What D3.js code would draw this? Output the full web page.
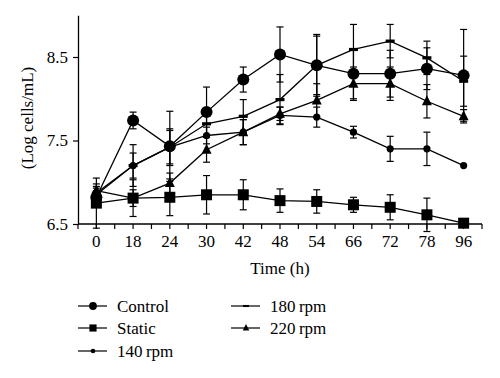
<!DOCTYPE html>
<html>
<head>
<meta charset="utf-8">
<script src="https://cdn.jsdelivr.net/npm/d3@7"></script>
<style>
  body { margin: 0; background: #fff; }
</style>
</head>
<body>
<script>
var width = 500,
    height = 378;

var serif = "'Liberation Serif', 'Times New Roman', Times, 'DejaVu Serif', serif";

// time points (h)
var times = ['0', '18', '24', '30', '42', '48', '54', '66', '72', '78', '96'];
var yTicks = [6.5, 7.5, 8.5];

// means, log cells/mL
var control = [6.82, 7.74, 7.43, 7.84, 8.23, 8.53, 8.40, 8.30, 8.30, 8.36, 8.28];
var stat    = [6.75, 6.81, 6.82, 6.85, 6.85, 6.78, 6.77, 6.73, 6.70, 6.61, 6.51];
var rpm140  = [6.85, 7.20, 7.42, 7.56, 7.60, 7.80, 7.78, 7.60, 7.40, 7.40, 7.20];
var rpm180  = [6.87, 7.20, 7.42, 7.70, 7.79, 7.99, 8.40, 8.59, 8.69, 8.49, 8.21];
var rpm220  = [6.90, 6.81, 6.99, 7.39, 7.60, 7.82, 7.98, 8.18, 8.18, 7.97, 7.79];

// error bars (+/-)
var controlErr = [0.08, 0.10, 0.42, 0.30, 0.15, 0.33, 0.37, 0.30, 0.28, 0.25, 0.55];
var statErr    = [0.30, 0.22, 0.22, 0.23, 0.18, 0.14, 0.14, 0.09, 0.15, 0.20, 0.00];
var rpm140Err  = [0.08, 0.25, 0.20, 0.10, 0.15, 0.10, 0.12, 0.07, 0.15, 0.20, 0.00];
var rpm180Err  = [0.08, 0.15, 0.22, 0.15, 0.20, 0.30, 0.35, 0.30, 0.20, 0.20, 0.30];
var rpm220Err  = [0.08, 0.10, 0.12, 0.15, 0.15, 0.08, 0.20, 0.20, 0.20, 0.20, 0.08];

var seriesNames = ['Control', 'Static', '140\u2009rpm', '180\u2009rpm', '220\u2009rpm'];
var seriesVals = [control, stat, rpm140, rpm180, rpm220];
var seriesErrs = [controlErr, statErr, rpm140Err, rpm180Err, rpm220Err];
var seriesMarks = ['bigCircle', 'square', 'smallCircle', 'dash', 'triangle'];

var svg = d3.select('body')
  .append('svg')
  .attr('width', width)
  .attr('height', height);

var x = d3.scaleBand()
  .domain(times)
  .range([78, 482]);

var y = d3.scaleLinear()
  .domain([6.5, 9])
  .range([224, 15.25]);

function cx(t) { return x(t) + x.bandwidth() / 2; }

// axes
var xAxis = svg.append('g')
  .attr('transform', 'translate(0,224)')
  .call(d3.axisBottom(x).tickSize(5).tickSizeOuter(0).tickPadding(6));
xAxis.attr('font-family', null).attr('font-size', null);
xAxis.select('.domain').attr('d', 'M78,0H482').attr('stroke-width', 1.3);
xAxis.selectAll('.tick line').attr('stroke-width', 1.2);
xAxis.selectAll('text').style('font-family', serif).style('font-size', '17px');

// unlabeled ticks at band edges
var edges = times.map(function(t) { return x(t); }).concat([x(times[times.length - 1]) + x.step()]);
xAxis.selectAll('.edge')
  .data(edges)
  .enter().append('line')
  .attr('class', 'edge')
  .attr('x1', function(d) { return d; })
  .attr('x2', function(d) { return d; })
  .attr('y1', 0)
  .attr('y2', 5)
  .attr('stroke', '#000')
  .attr('stroke-width', 1.2);

var yAxis = svg.append('g')
  .attr('transform', 'translate(78,0)')
  .call(d3.axisLeft(y).tickValues(yTicks).tickFormat(d3.format('.1f')).tickSize(5).tickSizeOuter(0).tickPadding(5));
yAxis.attr('font-family', null).attr('font-size', null);
yAxis.select('.domain').attr('stroke-width', 1.3);
yAxis.selectAll('.tick line').attr('stroke-width', 1.2);
yAxis.selectAll('text').style('font-family', serif).style('font-size', '17px');

svg.append('text')
  .attr('x', 280)
  .attr('y', 274)
  .attr('text-anchor', 'middle')
  .style('font-family', serif)
  .style('font-size', '17px')
  .text('Time (h)');

svg.append('text')
  .attr('transform', 'translate(33,118) rotate(-90)')
  .attr('text-anchor', 'middle')
  .style('font-family', serif)
  .style('font-size', '17px')
  .text('(Log cells/mL)');

// markers
function drawMark(g, type, px, py, s) {
  if (type === 'bigCircle') {
    g.append('circle').attr('cx', px).attr('cy', py).attr('r', 6 * s).attr('fill', '#000');
  } else if (type === 'smallCircle') {
    g.append('circle').attr('cx', px).attr('cy', py).attr('r', 3.6 * s).attr('fill', '#000');
  } else if (type === 'square') {
    g.append('rect').attr('x', px - 5.5 * s).attr('y', py - 5.5 * s)
      .attr('width', 11 * s).attr('height', 11 * s).attr('fill', '#000');
  } else if (type === 'dash') {
    g.append('rect').attr('x', px - 4.5 * s).attr('y', py - 1.6 * s)
      .attr('width', 9 * s).attr('height', 3.2 * s).attr('fill', '#000');
  } else if (type === 'triangle') {
    var h = 10 * s;
    g.append('path')
      .attr('d', 'M' + px + ',' + (py - h * 0.6) + 'L' + (px + h / 2) + ',' + (py + h * 0.4) + 'L' + (px - h / 2) + ',' + (py + h * 0.4) + 'Z')
      .attr('fill', '#000');
  }
}

var line = d3.line()
  .x(function(d) { return cx(d.t); })
  .y(function(d) { return y(d.v); });

var plot = svg.append('g');

seriesVals.forEach(function(vals, i) {
  var pts = vals.map(function(v, j) { return { t: times[j], v: v, e: seriesErrs[i][j] }; });
  var g = plot.append('g');

  g.append('path')
    .datum(pts)
    .attr('d', line)
    .attr('fill', 'none')
    .attr('stroke', '#000')
    .attr('stroke-width', 1.3);

  pts.forEach(function(p) {
    if (p.e <= 0) return;
    var px = cx(p.t), y1 = y(p.v + p.e), y2 = y(p.v - p.e);
    g.append('line').attr('x1', px).attr('x2', px).attr('y1', y1).attr('y2', y2)
      .attr('stroke', '#000').attr('stroke-width', 1.2);
    [y1, y2].forEach(function(yy) {
      g.append('line').attr('x1', px - 3.5).attr('x2', px + 3.5).attr('y1', yy).attr('y2', yy)
        .attr('stroke', '#000').attr('stroke-width', 1.2);
    });
  });
});

seriesVals.forEach(function(vals, i) {
  var g = plot.append('g');
  vals.forEach(function(v, j) {
    drawMark(g, seriesMarks[i], cx(times[j]), y(v), 1);
  });
});

// legend
var legendPos = [
  { x: 78, y: 306 },
  { x: 78, y: 328 },
  { x: 78, y: 351 },
  { x: 231, y: 306 },
  { x: 231, y: 328 }
];

var legend = svg.append('g');
seriesNames.forEach(function(name, i) {
  var p = legendPos[i];
  var g = legend.append('g');
  g.append('line')
    .attr('x1', p.x).attr('x2', p.x + 29)
    .attr('y1', p.y).attr('y2', p.y)
    .attr('stroke', '#000').attr('stroke-width', 1.2);
  drawMark(g, seriesMarks[i], p.x + 15, p.y, 0.65);
  g.append('text')
    .attr('x', p.x + 39)
    .attr('y', p.y + 6)
    .style('font-family', serif)
    .style('font-size', '17px')
    .text(name);
});
</script>
</body>
</html>
